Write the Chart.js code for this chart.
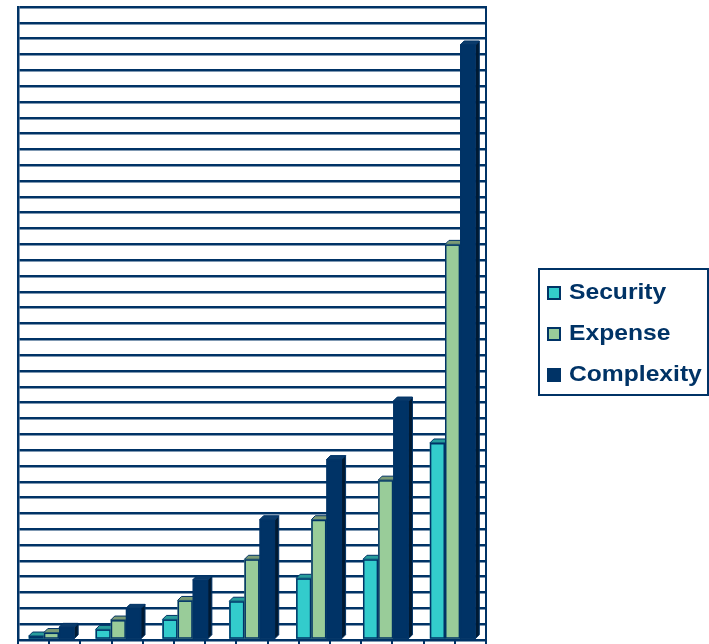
<!DOCTYPE html>
<html>
<head>
<meta charset="utf-8">
<script src="https://cdn.jsdelivr.net/npm/chart.js@4.4.0/dist/chart.umd.min.js"></script>
<style>
  body { margin: 0; background: #fff; }
  #wrap { position: relative; width: 709px; height: 644px; }
  #legend {
    position: absolute; left: 538px; top: 268px; width: 160px;
    border: 2px solid #003366; padding: 1px 0 0 7px;
    font-family: "Liberation Sans", Arial, sans-serif; font-weight: bold;
    font-size: 22px; color: #003366;
  }
  .row { display: flex; align-items: center; height: 41px; }
  .box { width: 10px; height: 10px; border: 2px solid #003366; margin-right: 8px; margin-top: 2px; flex: none; }
  .lbl { transform: scaleX(1.12); transform-origin: left center; white-space: nowrap; }
</style>
</head>
<body>
<div id="wrap">
  <canvas id="chart"></canvas>
  <div id="legend"></div>
</div>
<script>
// data (no axis labels are shown)
const categories = ['1', '2', '3', '4', '5', '6', '7'];
const security   = [0.25, 0.67, 1.3, 2.45, 3.9, 5.1, 12.45];
const expense    = [0.47, 1.26, 2.5, 5.1, 7.6, 10.1, 25.0];
const complexity = [0.8, 2.0, 3.8, 7.6, 11.4, 15.1, 37.6];
const seriesNames = ['Security', 'Expense', 'Complexity'];
const yMax = 40;

const frontColors = ['#33CCCC', '#99CC99', '#003366'];
const topColors   = ['#279c9c', '#7b9b75', '#0b3b6b'];
const sideColors  = ['#1a6666', '#4d664d', '#001a33'];

// draws each column with a small top + side face, category by category
const bar3d = {
  id: 'bar3d',
  afterDatasetsDraw(chart) {
    const ctx = chart.ctx;
    const d = 4;
    const metas = chart.data.datasets.map((ds, j) => chart.getDatasetMeta(j));
    for (let i = 0; i < categories.length; i++) {
      metas.forEach((meta, j) => {
        const bar = meta.data[i];
        const { x, y, base, width } = bar.getProps(['x', 'y', 'base', 'width'], true);
        const l = x - width / 2, r = x + width / 2;
        ctx.save();
        ctx.lineWidth = 1;
        ctx.strokeStyle = '#003366';
        // side
        ctx.beginPath();
        ctx.moveTo(r, y); ctx.lineTo(r + d, y - d); ctx.lineTo(r + d, base - d); ctx.lineTo(r, base);
        ctx.closePath();
        ctx.fillStyle = sideColors[j]; ctx.fill(); ctx.stroke();
        // top
        ctx.beginPath();
        ctx.moveTo(l, y); ctx.lineTo(l + d, y - d); ctx.lineTo(r + d, y - d); ctx.lineTo(r, y);
        ctx.closePath();
        ctx.fillStyle = topColors[j]; ctx.fill(); ctx.stroke();
        // front
        ctx.fillStyle = frontColors[j];
        ctx.fillRect(l, y, width, base - y);
        ctx.lineWidth = 1.5;
        ctx.strokeRect(l + 0.75, y + 0.75, width - 1.5, base - y - 1.5);
        ctx.restore();
      });
    }
  }
};

const ctx = document.getElementById('chart').getContext('2d');
const myChart = new Chart(ctx, {
  type: 'bar',
  data: {
    labels: categories,
    datasets: [security, expense, complexity].map((vals, j) => ({
      label: seriesNames[j],
      data: vals,
      backgroundColor: frontColors[j],
      borderColor: '#003366',
      borderWidth: 1,
      barPercentage: 1,
      categoryPercentage: 0.68
    }))
  },
  options: {
    responsive: true,
    maintainAspectRatio: false,
    animation: false,
    layout: { padding: { left: 18, top: 7, right: 223, bottom: 0 } },
    plugins: { legend: { display: false }, tooltip: { enabled: false } },
    scales: {
      x: { display: false },
      x2: {
        type: 'linear', position: 'bottom', min: 0, max: 14,
        ticks: { display: false, stepSize: 1 },
        grid: { drawOnChartArea: false, drawTicks: true, tickLength: 4, color: '#003366', lineWidth: 2 },
        border: { display: true, color: '#003366', width: 2 }
      },
      y: {
        min: 0, max: yMax,
        ticks: { display: false, stepSize: 1 },
        grid: { drawTicks: false, color: '#003366', lineWidth: 2.5 },
        border: { display: true, color: '#003366', width: 2.5 }
      },
      y2: {
        position: 'right', min: 0, max: yMax,
        ticks: { display: false },
        grid: { drawOnChartArea: false, drawTicks: false },
        border: { display: true, color: '#003366', width: 2 }
      }
    }
  },
  plugins: [bar3d]
});

// html legend
const legend = document.getElementById('legend');
seriesNames.forEach((name, j) => {
  const row = document.createElement('div');
  row.className = 'row';
  row.innerHTML = '<span class="box" style="background:' + frontColors[j] + '"></span><span class="lbl">' + name + '</span>';
  legend.appendChild(row);
});
</script>
</body>
</html>
